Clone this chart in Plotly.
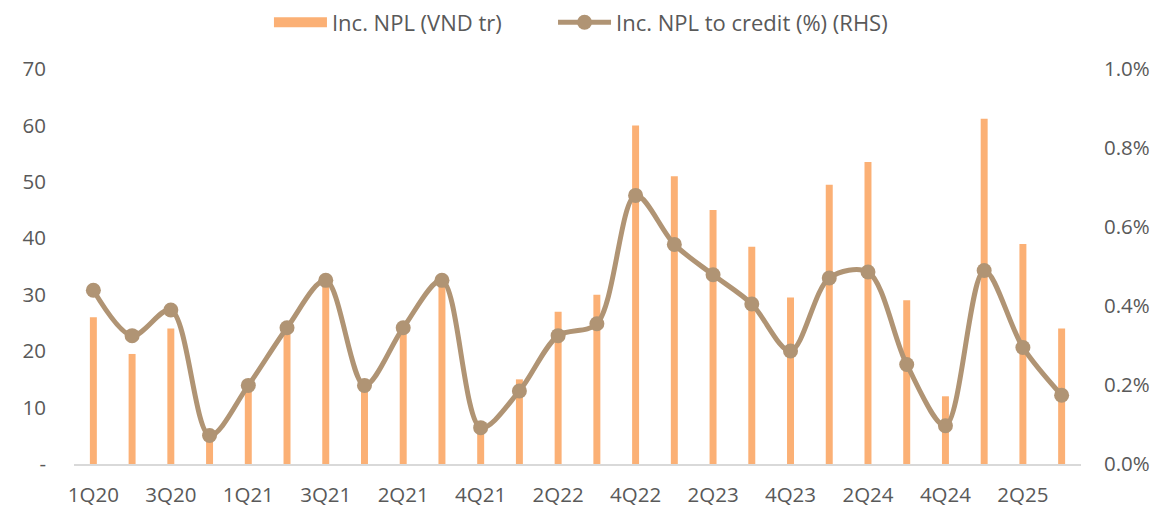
import plotly.graph_objects as go

quarters = ["1Q20", "2Q20", "3Q20", "4Q20", "1Q21", "2Q21", "3Q21", "4Q21",
            "2Q21", "3Q21", "4Q21", "1Q22", "2Q22", "3Q22", "4Q22", "1Q23",
            "2Q23", "3Q23", "4Q23", "1Q24", "2Q24", "3Q24", "4Q24", "1Q25",
            "2Q25", "3Q25"]
npl_vnd = [26, 19.5, 24, 5, 13, 23, 32, 13, 23, 32, 6, 15, 27, 30, 60, 51,
           45, 38.5, 29.5, 49.5, 53.5, 29, 12, 61.2, 39, 24]
npl_pct = [0.44, 0.325, 0.39, 0.072, 0.199, 0.345, 0.465, 0.199, 0.345, 0.465,
           0.092, 0.185, 0.325, 0.355, 0.68, 0.556, 0.479, 0.405, 0.286, 0.471,
           0.486, 0.252, 0.097, 0.49, 0.295, 0.174]

x = list(range(len(quarters)))
bar_color = "#FBB075"
line_color = "#B09474"
txt = "#595959"
fs = 20.5
lfs = 22

fig = go.Figure()
fig.add_trace(go.Bar(x=x, y=npl_vnd, name="Inc. NPL (VND tr)", showlegend=False,
                     marker=dict(color=bar_color, line_width=0)))
# legend-only entry to show a wide swatch like the original
fig.add_trace(go.Scatter(x=[None], y=[None], name="Inc. NPL (VND tr)", mode="lines",
                         line=dict(color=bar_color, width=14), legend="legend"))
fig.add_trace(go.Scatter(x=x, y=npl_pct, name="Inc. NPL to credit (%) (RHS)",
                         yaxis="y2", mode="lines+markers", legend="legend2",
                         line=dict(color=line_color, width=5, shape="spline", smoothing=0.9),
                         marker=dict(color=line_color, size=15)))

fig.update_layout(
    width=1167, height=500,
    margin=dict(l=66, r=94, t=61, b=44, autoexpand=False),
    plot_bgcolor="white", paper_bgcolor="white",
    font=dict(family="Open Sans", size=fs, color=txt),
    bargap=0.82,
    showlegend=True,
    legend=dict(orientation="h", x=0.1936, xanchor="left", y=1.118, yanchor="middle",
                font=dict(size=lfs, color=txt), itemwidth=53),
    legend2=dict(orientation="h", x=0.4757, xanchor="left", y=1.118, yanchor="middle",
                 font=dict(size=lfs, color=txt), itemwidth=53),
    xaxis=dict(tickmode="array", tickvals=x[::2], ticktext=quarters[::2],
               range=[-0.5, len(x) - 0.5], showgrid=False, showline=True,
               linecolor="#D9D9D9", linewidth=2, ticks="", ticklabelstandoff=11,
               zeroline=False),
    yaxis=dict(range=[0, 70], tickvals=[0, 10, 20, 30, 40, 50, 60, 70],
               ticktext=["-", "10", "20", "30", "40", "50", "60", "70"],
               showgrid=False, zeroline=False, ticks="", ticklabelstandoff=27),
    yaxis2=dict(range=[0, 1.0], overlaying="y", side="right",
                tickvals=[0, 0.2, 0.4, 0.6, 0.8, 1.0],
                ticktext=["0.0%", "0.2%", "0.4%", "0.6%", "0.8%", "1.0%"],
                showgrid=False, zeroline=False, ticks="", ticklabelstandoff=22),
)

fig.write_html("out.html")
